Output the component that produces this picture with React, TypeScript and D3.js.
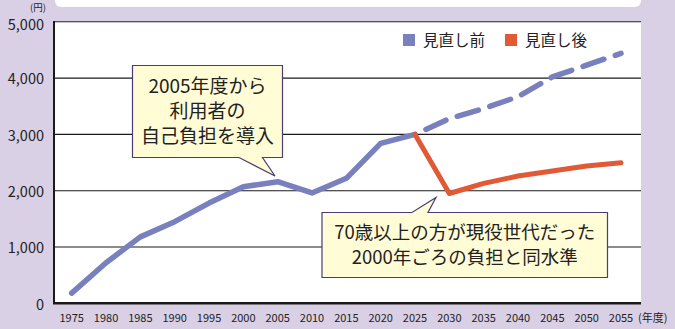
import React from "react";
import * as d3 from "d3";

const years = [1975, 1980, 1985, 1990, 1995, 2000, 2005, 2010, 2015, 2020, 2025, 2030, 2035, 2040, 2045, 2050, 2055];
const actualYears = [1975, 1980, 1985, 1990, 1995, 2000, 2005, 2010, 2015, 2020, 2025];
const actualValues = [180, 720, 1180, 1450, 1780, 2070, 2160, 1960, 2220, 2840, 3000];
const projYears = [2025, 2030, 2035, 2040, 2045, 2050, 2055];
const beforeValues = [3000, 3280, 3460, 3670, 4020, 4230, 4440];
const afterValues = [3000, 1950, 2130, 2260, 2350, 2440, 2495];
const yTicks = [0, 1000, 2000, 3000, 4000, 5000];
const legendLabels = ["見直し前", "見直し後"];
const note1 = ["2005年度から", "利用者の", "自己負担を導入"];
const note2 = ["70歳以上の方が現役世代だった", "2000年ごろの負担と同水準"];

const W = 675, H = 329;
const plotL = 54, plotR = 641, plotT = 21, plotB = 303.3;
const BLUE = "#7880bd";
const ORANGE = "#e05a35";
const BG = "#dad0e5";
const FONT = "'Noto Sans CJK JP', 'Noto Sans', sans-serif";

export default function App() {
  const x = d3.scaleLinear().domain([1975, 2055]).range([71.7, 621]);
  const y = d3.scaleLinear().domain([0, 5000]).range([plotB, 21.8]);
  const line = d3.line<[number, number]>().x(d => x(d[0])).y(d => y(d[1]));
  const actual = actualYears.map((yr, i) => [yr, actualValues[i]] as [number, number]);
  const before = projYears.map((yr, i) => [yr, beforeValues[i]] as [number, number]);
  const after = projYears.map((yr, i) => [yr, afterValues[i]] as [number, number]);

  const box1 = { x0: 132.5, y0: 65.5, x1: 282.5, y1: 157.5, t0: 239, t1: 262.5, tipX: 275, tipY: 176 };
  const box2 = { x0: 322, y0: 212.5, x1: 607.5, y1: 277.5, t0: 412, t1: 428, tipX: 436, tipY: 197.5 };

  const calloutPath = (b: typeof box1, tailBottom: boolean) => {
    if (tailBottom) {
      return `M${b.x0},${b.y0} H${b.x1} V${b.y1} H${b.t1} L${b.tipX},${b.tipY} L${b.t0},${b.y1} H${b.x0} Z`;
    }
    return `M${b.x0},${b.y0} H${b.t0} L${b.tipX},${b.tipY} L${b.t1},${b.y0} H${b.x1} V${b.y1} H${b.x0} Z`;
  };

  return (
    <svg width={W} height={H} style={{ position: "absolute", left: 0, top: 0, display: "block" }} fontFamily={FONT}>
      <rect x={0} y={0} width={W} height={H} fill={BG} />
      <rect x={55} y={-10} width={586} height={17} rx={6} fill="#ffffff" />
      <rect x={plotL} y={plotT} width={plotR - plotL} height={plotB - plotT} fill="#ffffff" />
      {yTicks.map(t => (
        <g key={t}>
          {t > 0 && <line x1={plotL} x2={plotR} y1={y(t)} y2={y(t)} stroke="#1a1a1a" strokeWidth={1.1} />}
          <text x={44} y={y(t) + (t === 5000 ? 3 : 1)} dy="0.36em" textAnchor="end" fontSize={14.5} fill="#222">{d3.format(",")(t)}</text>
        </g>
      ))}
      <line x1={plotL} x2={plotL} y1={plotT} y2={plotB} stroke="#1a1a1a" strokeWidth={2} />
      <line x1={plotL - 1} x2={plotR} y1={plotB} y2={plotB} stroke="#1a1a1a" strokeWidth={2.5} />
      <text x={46} y={7.5} dy="0.36em" textAnchor="end" fontSize={9.5} fill="#222">(円)</text>
      {years.map(yr => (
        <text key={yr} x={x(yr)} y={318} dy="0.36em" textAnchor="middle" fontSize={11} fill="#222">{yr}</text>
      ))}
      <text x={638} y={318} dy="0.36em" fontSize={11} fill="#222">(年度)</text>

      <path d={line(actual) || ""} fill="none" stroke={BLUE} strokeWidth={5.5} strokeLinejoin="round" strokeLinecap="round" />
      <path d={line(before) || ""} fill="none" stroke={BLUE} strokeWidth={5.5} strokeLinejoin="round" strokeLinecap="round" strokeDasharray="22 12" strokeDashoffset={-12} />
      <path d={line(after) || ""} fill="none" stroke={ORANGE} strokeWidth={5} strokeLinejoin="round" strokeLinecap="round" />

      <rect x={403} y={34} width={12} height={12} fill={BLUE} />
      <text x={423} y={40} dy="0.36em" fontSize={15.5} fill="#222">{legendLabels[0]}</text>
      <rect x={505} y={34} width={12} height={12} fill={ORANGE} />
      <text x={525} y={40} dy="0.36em" fontSize={15.5} fill="#222">{legendLabels[1]}</text>

      <path d={calloutPath(box1, true)} fill="#fffcd6" stroke="#4b3c78" strokeWidth={1.2} />
      {note1.map((s, i) => (
        <text key={i} x={(box1.x0 + box1.x1) / 2} y={86.5 + i * 25} dy="0.36em" textAnchor="middle" fontSize={19} fill="#222">{s}</text>
      ))}
      <path d={calloutPath(box2, false)} fill="#fffcd6" stroke="#4b3c78" strokeWidth={1.2} />
      {note2.map((s, i) => (
        <text key={i} x={(box2.x0 + box2.x1) / 2} y={232 + i * 25} dy="0.36em" textAnchor="middle" fontSize={18.5} fill="#222">{s}</text>
      ))}
    </svg>
  );
}
